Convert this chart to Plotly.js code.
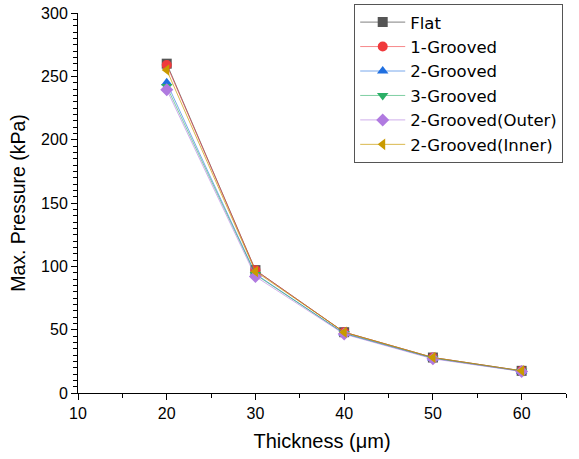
<!DOCTYPE html>
<html>
<head>
<meta charset="utf-8">
<script src="https://cdn.plot.ly/plotly-3.0.1.min.js"></script>
<style>html,body{margin:0;padding:0;background:#fff;}#chart{width:579px;height:459px;}</style>
</head>
<body>
<div id="chart"></div>
<script>
const thickness = [20, 30, 40, 50, 60];
const seriesNames = ["Flat", "1-Grooved", "2-Grooved", "3-Grooved", "2-Grooved(Outer)", "2-Grooved(Inner)"];
const flat = [260, 97, 48, 28, 17.5];
const grooved1 = [259, 97, 48, 28, 17.5];
const grooved2 = [245, 94, 47, 27.5, 17.2];
const grooved3 = [242, 93.5, 47, 27.5, 17.2];
const grooved2Outer = [239.5, 92, 46.5, 27, 17];
const grooved2Inner = [255, 96, 48, 28, 17.5];

const values = [flat, grooved1, grooved2, grooved3, grooved2Outer, grooved2Inner];
const colors = ["#555555", "#F0393C", "#1F6FE0", "#2BAF66", "#B07AE0", "#C99A00"];
const lineColors = ["rgba(85,85,85,0.75)", "rgba(240,57,60,0.6)", "rgba(31,111,224,0.6)", "rgba(43,175,102,0.6)", "rgba(176,122,224,0.6)", "rgba(201,154,0,0.7)"];
const symbols = ["square", "circle", "triangle-up", "triangle-down", "diamond", "triangle-left"];

const traces = values.map((v, i) => ({
  x: thickness, y: v, name: seriesNames[i], type: "scatter", mode: "lines+markers",
  line: {color: lineColors[i], width: 1},
  marker: {symbol: symbols[i], color: colors[i], size: 10, line: {width: 0}}
}));

const layout = {
  width: 579, height: 459,
  margin: {l: 77.5, r: 13, t: 13, b: 66, autoexpand: false},
  paper_bgcolor: "#fff", plot_bgcolor: "#fff",
  font: {family: "Arial, Liberation Sans, sans-serif", color: "#000"},
  showlegend: true,
  legend: {
    x: 0.566, y: 1.024, xanchor: "left", yanchor: "top",
    bordercolor: "#555", borderwidth: 1, bgcolor: "#fff",
    font: {size: 16.5, family: "DejaVu Sans, Arial, sans-serif"},
    itemwidth: 45, tracegroupgap: 0
  },
  xaxis: {
    range: [10, 65], tickvals: [10, 20, 30, 40, 50, 60],
    showgrid: false, zeroline: false, showline: true, linecolor: "#000", linewidth: 1,
    ticks: "outside", ticklen: 6, tickcolor: "#000", tickfont: {size: 16},
    minor: {dtick: 5, tick0: 10, ticks: "outside", ticklen: 4, tickcolor: "#000", showgrid: false},
    title: {text: "Thickness (μm)", font: {size: 20}, standoff: 12}
  },
  yaxis: {
    range: [0, 300], tickvals: [0, 50, 100, 150, 200, 250, 300],
    showgrid: false, zeroline: false, showline: true, linecolor: "#000", linewidth: 1,
    ticks: "outside", ticklen: 6, tickcolor: "#000", tickfont: {size: 16},
    minor: {dtick: 5, tick0: 0, ticks: "outside", ticklen: 4, tickcolor: "#000", showgrid: false},
    title: {text: "Max. Pressure (kPa)", font: {size: 19.5}, standoff: 10}
  }
};

Plotly.newPlot("chart", traces, layout, {displayModeBar: false, staticPlot: true});
</script>
</body>
</html>
